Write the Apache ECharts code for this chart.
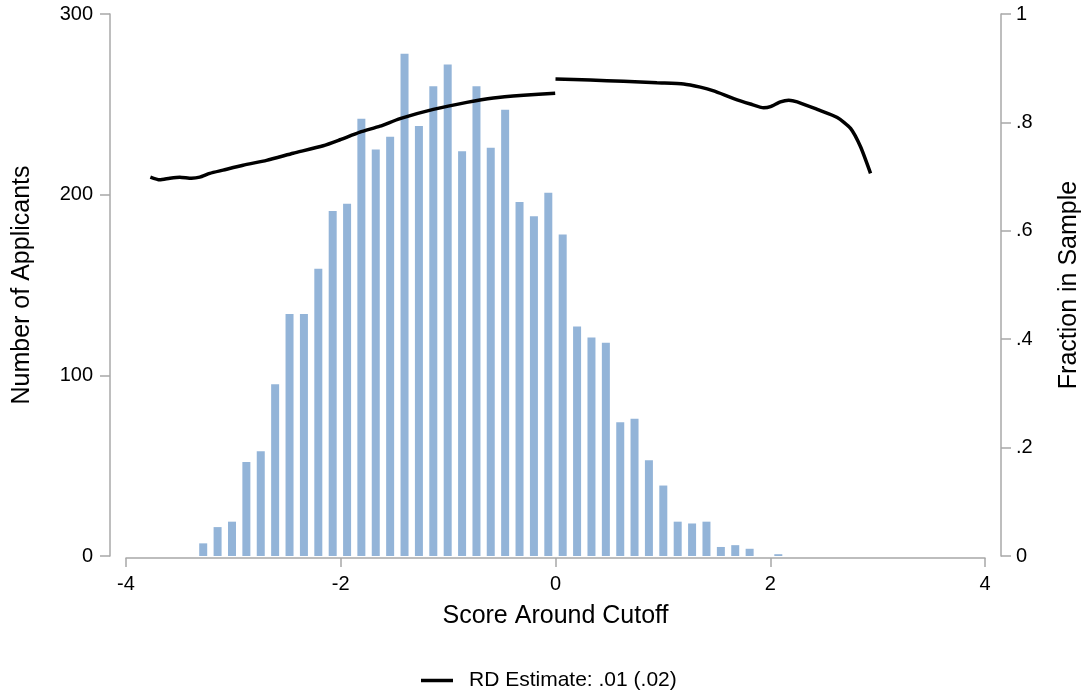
<!DOCTYPE html>
<html>
<head>
<meta charset="utf-8">
<script src="https://cdn.jsdelivr.net/npm/echarts@6/dist/echarts.min.js"></script>
<style>
  html, body { margin: 0; padding: 0; background: #fff; }
  #chart { width: 1084px; height: 696px; }
</style>
</head>
<body>
<div id="chart"></div>
<script>
// histogram bins (centre of each bin) and applicant counts
const binCenters = [-3.281, -3.147, -3.013, -2.879, -2.745, -2.611, -2.477, -2.343, -2.209, -2.075,
  -1.941, -1.808, -1.674, -1.540, -1.406, -1.272, -1.138, -1.004, -0.870, -0.736,
  -0.603, -0.469, -0.335, -0.201, -0.067, 0.067, 0.201, 0.335, 0.469, 0.603,
  0.736, 0.870, 1.004, 1.138, 1.272, 1.406, 1.540, 1.674, 1.808, 1.941, 2.075]
const applicants = [7, 16, 19, 52, 58, 95, 134, 134, 159, 191,
  195, 242, 225, 232, 278, 238, 260, 272, 224, 260,
  226, 247, 196, 188, 201, 178, 127, 121, 118, 74,
  76, 53, 39, 19, 18, 19, 5, 6, 4, 0, 1]

// fraction in sample, left of the cutoff
const leftScore = [-3.773, -3.686, -3.592, -3.499, -3.390, -3.313, -3.220, -3.096, -2.909, -2.691,
  -2.443, -2.163, -2.007, -1.821, -1.634, -1.448, -1.138, -0.826, -0.578, -0.298, -0.003]
const leftFrac = [0.699, 0.694, 0.697, 0.699, 0.697, 0.699, 0.706, 0.712, 0.721, 0.730,
  0.743, 0.757, 0.768, 0.782, 0.793, 0.807, 0.824, 0.837, 0.845, 0.850, 0.854]

// fraction in sample, right of the cutoff
const rightScore = [0.0, 0.324, 0.634, 0.945, 1.193, 1.349, 1.473, 1.660, 1.815, 1.939,
  2.002, 2.095, 2.172, 2.251, 2.437, 2.624, 2.748, 2.841, 2.934]
const rightFrac = [0.880, 0.878, 0.876, 0.873, 0.871, 0.865, 0.858, 0.844, 0.834, 0.827,
  0.829, 0.838, 0.841, 0.838, 0.824, 0.809, 0.789, 0.755, 0.706]

const legendName = 'RD Estimate: .01 (.02)'
const font = 'Liberation Sans, Arial, Helvetica, sans-serif'
const axisGray = '#a8a8a8'

function pairs(xs, ys) {
  return xs.map((x, i) => [x, ys[i]])
}

let myChart = echarts.init(document.getElementById('chart'))
myChart.setOption({
  animation: false,
  textStyle: { fontFamily: font, color: '#000' },
  grid: { left: 126, right: 99, top: 14, bottom: 140, outerBoundsMode: 'none', containLabel: false },
  legend: {
    left: 421,
    top: 670,
    padding: 0,
    icon: 'rect',
    itemWidth: 32,
    itemHeight: 3.5,
    textStyle: { fontSize: 21, color: '#000', padding: [0, 0, 0, 11] },
    data: [legendName]
  },
  xAxis: {
    type: 'value',
    min: -4,
    max: 4,
    interval: 2,
    offset: 2,
    name: 'Score Around Cutoff',
    nameLocation: 'middle',
    nameGap: 46,
    nameTextStyle: { fontSize: 25, color: '#000' },
    axisLine: { show: true, onZero: false, lineStyle: { color: axisGray, width: 1.5 } },
    axisTick: { show: true, length: 9, lineStyle: { color: axisGray, width: 1.5 } },
    axisLabel: { fontSize: 20, color: '#000', margin: 16 },
    splitLine: { show: false }
  },
  yAxis: [
    {
      type: 'value',
      min: 0,
      max: 300,
      interval: 100,
      position: 'left',
      offset: 16,
      name: 'Number of Applicants',
      nameLocation: 'middle',
      nameRotate: 90,
      nameGap: 75,
      nameTextStyle: { fontSize: 25, color: '#000' },
      axisLine: { show: true, onZero: false, lineStyle: { color: axisGray, width: 1.5 } },
      axisTick: { show: true, length: 10, lineStyle: { color: axisGray, width: 1.5 } },
      axisLabel: { fontSize: 20, color: '#000', margin: 17 },
      splitLine: { show: false }
    },
    {
      type: 'value',
      min: 0,
      max: 1,
      interval: 0.2,
      position: 'right',
      offset: 16,
      name: 'Fraction in Sample',
      nameLocation: 'middle',
      nameRotate: 90,
      nameGap: 56,
      nameTextStyle: { fontSize: 25, color: '#000' },
      axisLine: { show: true, onZero: false, lineStyle: { color: axisGray, width: 1.5 } },
      axisTick: { show: true, length: 10, lineStyle: { color: axisGray, width: 1.5 } },
      axisLabel: {
        fontSize: 20,
        color: '#000',
        margin: 15,
        formatter: function (v) {
          if (v === 0) return '0'
          if (v === 1) return '1'
          return v.toFixed(1).replace(/^0/, '')
        }
      },
      splitLine: { show: false }
    }
  ],
  series: [
    {
      type: 'bar',
      yAxisIndex: 0,
      barWidth: 8,
      itemStyle: { color: '#93b4d8' },
      data: pairs(binCenters, applicants)
    },
    {
      name: legendName,
      type: 'line',
      yAxisIndex: 1,
      symbol: 'none',
      smooth: 0.2,
      lineStyle: { color: '#000', width: 3.5 },
      itemStyle: { color: '#000' },
      data: pairs(leftScore, leftFrac)
    },
    {
      name: legendName,
      type: 'line',
      yAxisIndex: 1,
      symbol: 'none',
      smooth: 0.2,
      lineStyle: { color: '#000', width: 3.5 },
      itemStyle: { color: '#000' },
      data: pairs(rightScore, rightFrac)
    }
  ]
})
</script>
</body>
</html>
